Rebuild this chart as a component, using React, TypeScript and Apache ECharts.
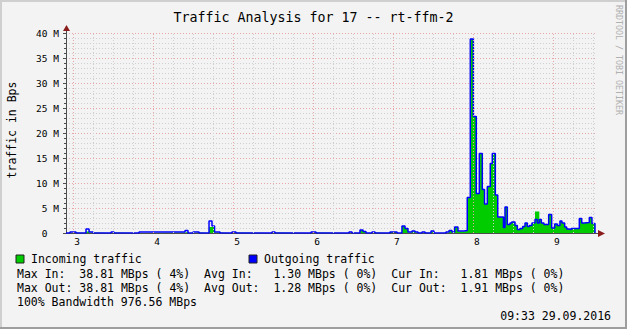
import React, { useEffect, useRef } from 'react';
import * as echarts from 'echarts';

// ---- data (x in hours, values in M bytes/s) ----
const hours = [
  2.906, 2.956, 3.031, 3.156, 3.194, 3.244, 3.469, 3.506, 3.819, 4.394,
  4.431, 4.494, 4.569, 4.694, 4.731, 4.763, 4.831, 4.981, 5.031, 5.481,
  5.519, 5.969, 6.031, 6.444, 6.481, 6.581, 6.619, 6.656, 6.731, 6.769,
  6.956, 7.044, 7.106, 7.144, 7.181, 7.231, 7.269, 7.306, 7.356, 7.394,
  7.469, 7.506, 7.656, 7.694, 7.731, 7.765, 7.806, 7.881, 7.922, 7.960,
  7.998, 8.035, 8.073, 8.110, 8.138, 8.173, 8.210, 8.235, 8.273, 8.303,
  8.375, 8.394, 8.423, 8.456, 8.478, 8.519, 8.548, 8.581, 8.615, 8.644,
  8.673, 8.698, 8.731, 8.769, 8.798, 8.823, 8.848, 8.881, 8.940, 8.977,
  9.015, 9.048, 9.081, 9.106, 9.140, 9.165, 9.190, 9.223, 9.323, 9.353,
  9.385, 9.448, 9.481, 9.519,
];
const outgoing = [
  0, 0.2, 0, 0.8, 0.2, 0, 0.2, 0, 0.2, 0.5,
  0, 0.2, 0, 2.4, 1.4, 0.2, 0, 0.2, 0, 0.2,
  0, 0.2, 0, 0.2, 0, 0.6, 0.3, 0, 0.2, 0,
  0.2, 0, 1.4, 0.9, 0.2, 0.4, 0.2, 0, 0.2, 0,
  0.4, 0, 0.2, 0.5, 0.2, 1.2, 0.4, 0.5, 7.1, 38.81,
  23.3, 7.9, 15.9, 8.7, 5.8, 9.3, 13.9, 15.9, 7.6, 3.2,
  1.1, 5.2, 1.7, 2.0, 2.2, 1.5, 0.7, 0.9, 1.3, 2.0,
  1.3, 1.5, 2.0, 2.7, 2.0, 2.7, 2.0, 1.7, 3.7, 1.0,
  1.8, 1.5, 2.4, 2.0, 1.2, 0.8, 0.7, 0.9, 2.9, 2.0,
  2.1, 3.1, 1.91, 0,
];
const incoming = [
  0, 0.1, 0, 0.3, 0.1, 0, 0.1, 0, 0.1, 0.2,
  0, 0.1, 0, 1.2, 1.2, 0.1, 0, 0.1, 0, 0.1,
  0, 0.1, 0, 0.1, 0, 0.6, 0.3, 0, 0.1, 0,
  0.2, 0, 1.4, 0.9, 0.1, 0.3, 0.1, 0, 0.1, 0,
  0.3, 0, 0.1, 0.4, 0.1, 1.2, 0.3, 0.4, 7.1, 38.81,
  23.3, 7.9, 15.9, 8.7, 5.8, 9.3, 13.9, 15.9, 7.6, 3.2,
  1.1, 5.2, 1.7, 2.0, 2.2, 1.5, 0.7, 0.9, 1.3, 2.0,
  1.3, 1.5, 2.0, 4.3, 4.3, 2.7, 2.0, 1.7, 3.7, 1.0,
  1.8, 1.5, 2.4, 2.0, 1.2, 0.8, 0.7, 0.9, 2.9, 2.0,
  2.1, 3.1, 1.81, 0,
];

const majorHours = [3, 4, 5, 6, 7, 8, 9];
const minorHours = [
  3.25, 3.5, 3.75, 4.25, 4.5, 4.75, 5.25, 5.5, 5.75, 6.25, 6.5, 6.75,
  7.25, 7.5, 7.75, 8.25, 8.5, 8.75, 9.25, 9.5,
];

const titleText = 'Traffic Analysis for 17 -- rt-ffm-2';
const yAxisTitle = 'traffic in Bps';
const watermark = 'RRDTOOL / TOBI OETIKER';
const legendNames = ['Incoming traffic', 'Outgoing traffic'];
const legendColors = ['#00CC00', '#0000FF'];
const statColumns = [0, 9, 27, 37, 54, 64];
const statRows = [
  ['Max In:', '38.81 MBps ( 4%)', 'Avg In:', '1.30 MBps ( 0%)', 'Cur In:', '1.81 MBps ( 0%)'],
  ['Max Out:', '38.81 MBps ( 4%)', 'Avg Out:', '1.28 MBps ( 0%)', 'Cur Out:', '1.91 MBps ( 0%)'],
];
const bandwidthText = '100% Bandwidth 976.56 MBps';
const timestampText = '09:33 29.09.2016';

const MONO = '"DejaVu Sans Mono", monospace';
const BG = '#F3F3F3';
const AXIS = '#4d4d4d';
const ARROW = '#8a1c1c';
const MINOR = '#cfcfcf';
const MAJOR = '#e8a6a6';

export default function App() {
  const ref = useRef<HTMLDivElement>(null);

  useEffect(() => {
    if (!ref.current) return;
    const chart = echarts.init(ref.current, undefined, { renderer: 'svg' });

    const legFont = `11.5px ${MONO}`;
    const cw = 6.93;
    const texts: any[] = [];
    const txt = (text: string, x: number, y: number, extra: any = {}) => ({
      type: 'text',
      x,
      y,
      silent: true,
      style: {
        text,
        font: legFont,
        fill: '#000',
        textVerticalAlign: 'middle',
        verticalAlign: 'middle',
        ...extra,
      },
    });

    // legend row
    legendNames.forEach((name, i) => {
      const bx = i === 0 ? 16 : 249;
      texts.push({
        type: 'rect',
        silent: true,
        shape: { x: bx, y: 255, width: 8, height: 8 },
        style: { fill: legendColors[i], stroke: '#222', lineWidth: 1 },
      });
      texts.push(txt(name, bx + 15, 259.3));
    });
    statRows.forEach((row, r) => {
      row.forEach((cell, c) => {
        texts.push(txt(cell, 17 + statColumns[c] * cw, 273.5 + r * 14.3));
      });
    });
    texts.push(txt(bandwidthText, 17, 302));
    texts.push(txt(timestampText, 611, 315.5, { textAlign: 'right', align: 'right' }));

    const option: any = {
      animation: false,
      backgroundColor: BG,
      title: {
        text: titleText,
        left: 'center',
        top: 6,
        textStyle: { fontFamily: MONO, fontSize: 13.3, fontWeight: 'normal', color: '#000' },
      },
      grid: { left: 66, top: 33, width: 531, height: 200, containLabel: false },
      xAxis: {
        type: 'value',
        min: 2.906,
        max: 9.544,
        axisLine: { show: true, onZero: false, lineStyle: { color: AXIS, width: 1 } },
        axisTick: { show: false },
        splitLine: { show: false },
        axisLabel: {
          customValues: majorHours,
          fontFamily: MONO,
          fontSize: 9.5,
          color: '#000',
          margin: 3,
          padding: [0, 0, 0, 7],
        },
      },
      yAxis: {
        type: 'value',
        min: 0,
        max: 40,
        interval: 5,
        axisLine: { show: true, lineStyle: { color: AXIS, width: 1 } },
        axisTick: { show: true, length: 3, lineStyle: { color: AXIS } },
        minorTick: { show: true, splitNumber: 5, length: 2, lineStyle: { color: AXIS } },
        splitLine: { show: true, lineStyle: { color: MAJOR, type: [1, 2], width: 1 } },
        minorSplitLine: { show: true, lineStyle: { color: MINOR, type: [1, 2], width: 1 } },
        axisLabel: {
          fontFamily: MONO,
          fontSize: 9.5,
          color: '#000',
          margin: 7,
          formatter: (v: number) => (v === 0 ? '0\u00A0\u00A0' : `${v} M`),
        },
      },
      series: [
        {
          type: 'line',
          name: 'grid',
          data: [],
          silent: true,
          z: 1,
          markLine: {
            silent: true,
            animation: false,
            symbol: ['none', 'none'],
            label: { show: false },
            lineStyle: { color: MINOR, type: [1, 2], width: 1 },
            data: [
              ...minorHours.map((v) => ({ xAxis: v })),
              ...majorHours.map((v) => ({
                xAxis: v,
                lineStyle: { color: MAJOR, type: [1, 2], width: 1 },
              })),
            ],
          },
        },
        {
          type: 'line',
          name: legendNames[0],
          data: hours.map((h, i) => [h, incoming[i]]),
          step: 'end',
          symbol: 'none',
          showSymbol: false,
          lineStyle: { color: '#00CC00', width: 0 },
          areaStyle: { color: '#00CC00', opacity: 1 },
          z: 3,
          silent: true,
        },
        {
          type: 'line',
          name: legendNames[1],
          data: hours.map((h, i) => [h, outgoing[i]]),
          step: 'end',
          symbol: 'none',
          showSymbol: false,
          lineStyle: { color: '#0000FF', width: 1.5 },
          z: 4,
          silent: true,
        },
      ],
      graphic: [
        // 3D frame
        { type: 'rect', silent: true, shape: { x: 0, y: 0, width: 627, height: 2 }, style: { fill: '#CFCFCF' } },
        { type: 'rect', silent: true, shape: { x: 0, y: 0, width: 2, height: 329 }, style: { fill: '#CFCFCF' } },
        { type: 'rect', silent: true, shape: { x: 0, y: 327, width: 627, height: 2 }, style: { fill: '#9E9E9E' } },
        { type: 'rect', silent: true, shape: { x: 625, y: 0, width: 2, height: 329 }, style: { fill: '#9E9E9E' } },
        // axis extensions and arrows
        { type: 'line', silent: true, shape: { x1: 66.5, y1: 33, x2: 66.5, y2: 29 }, style: { stroke: AXIS, lineWidth: 1 } },
        { type: 'line', silent: true, shape: { x1: 597, y1: 233.5, x2: 600, y2: 233.5 }, style: { stroke: AXIS, lineWidth: 1 } },
        { type: 'polygon', silent: true, shape: { points: [[63, 31], [70, 31], [66.5, 25]] }, style: { fill: ARROW } },
        { type: 'polygon', silent: true, shape: { points: [[598, 230], [598, 237], [605, 233.5]] }, style: { fill: ARROW } },
        // y axis title
        {
          type: 'text',
          silent: true,
          x: 12,
          y: 130,
          rotation: Math.PI / 2,
          style: {
            text: yAxisTitle,
            font: `11.5px ${MONO}`,
            fill: '#000',
            textAlign: 'center',
            align: 'center',
            textVerticalAlign: 'middle',
            verticalAlign: 'middle',
          },
        },
        // watermark
        {
          type: 'text',
          silent: true,
          x: 619,
          y: 60,
          rotation: -Math.PI / 2,
          style: {
            text: watermark,
            font: `8.3px ${MONO}`,
            fill: '#b0b0b0',
            textAlign: 'center',
            align: 'center',
            textVerticalAlign: 'middle',
            verticalAlign: 'middle',
          },
        },
        ...texts,
      ],
    };

    chart.setOption(option);
    return () => chart.dispose();
  }, []);

  return (
    <div
      ref={ref}
      style={{ position: 'fixed', left: 0, top: 0, width: 627, height: 329 }}
    />
  );
}
